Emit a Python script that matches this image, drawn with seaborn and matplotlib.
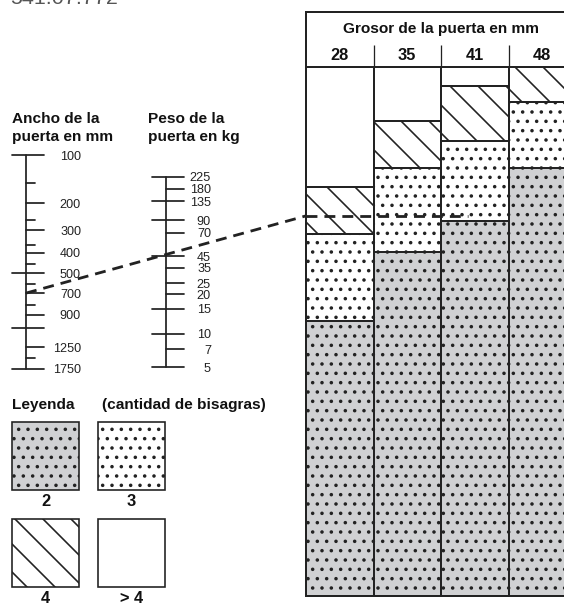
"""
Nomograma de bisagras: ancho y peso de la puerta -> cantidad de bisagras
segun el grosor de la puerta.
"""
import matplotlib
matplotlib.use("Agg")

import pandas as pd
import matplotlib.pyplot as plt
from matplotlib.patches import Rectangle
from matplotlib.transforms import blended_transform_factory
import seaborn as sns


# ─────────────────────────────────────────────
# Data (levels on a 0-100 chart scale, 0 = bottom of the table)
# ─────────────────────────────────────────────
THICKNESS_MM = ["28", "35", "41", "48"]

TOP_2_HINGES = [51.9, 64.9, 70.9, 80.8]
TOP_3_HINGES = [68.4, 80.8, 86.0, 93.4]
TOP_4_HINGES = [77.3, 89.8, 96.4, 100.0]
TOP_MORE     = [100.0, 100.0, 100.0, 100.0]

WIDTH_MM      = [100, 150, 200, 250, 300, 350, 400, 450, 500,
                 600, 700, 800, 900, 1000, 1250, 1500, 1750]
WIDTH_POS     = [83.3, 78.0, 74.2, 71.0, 69.1, 66.3, 64.8, 62.7, 61.0,
                 58.9, 57.2, 55.0, 53.1, 50.6, 47.0, 44.9, 42.9]
WIDTH_LABELED = [100, 200, 300, 400, 500, 700, 900, 1250, 1750]
WIDTH_MAJOR   = [100, 500, 1000, 1750]

WEIGHT_KG    = [225, 180, 135, 90, 70, 45, 35, 25, 20, 15, 10, 7, 5]
WEIGHT_POS   = [79.2, 76.9, 74.6, 71.0, 68.6, 64.2, 62.0, 59.1, 57.0,
                54.2, 49.5, 46.6, 43.2]
WEIGHT_MAJOR = [225, 135, 90, 45, 15, 10, 5]

EXAMPLE_WIDTH_MM = 700
EXAMPLE_LEVEL    = 71.8

LEGEND_LABELS = ["2", "3", "4", "> 4"]


# ─────────────────────────────────────────────
# Styles / layout (pixels of the 564x603 canvas)
# ─────────────────────────────────────────────
DPI = 168
W, H = 564, 603
EDGE = "#222222"
GRAY = "#d0d1d3"

ZONE_STYLE = {
    "2":   dict(color=GRAY,    hatch="..."),
    "3":   dict(color="white", hatch="..."),
    "4":   dict(color="white", hatch="\\\\"),
    "> 4": dict(color="white", hatch=None),
}

TABLE_LEFT, TABLE_RIGHT = 306, 576
TABLE_TOP, TABLE_BOTTOM = 66.7, 595.7
HEADER_TOP = 12
SCALE_STEP = 140          # px between width scale, weight scale and table

sns.set_style("white")
plt.rcParams["font.family"] = ["Liberation Sans", "DejaVu Sans"]
plt.rcParams["hatch.linewidth"] = 0.7


def fx(x):
    return x / W


def fy(y):
    return 1 - y / H


fig = plt.figure(figsize=(W / DPI, H / DPI), dpi=DPI)
fig.patch.set_facecolor("white")

# ─────────────────────────────────────────────
# Table (stacked zones drawn from tallest to shortest)
# ─────────────────────────────────────────────
tab_h = TABLE_BOTTOM - TABLE_TOP
ax = fig.add_axes([fx(TABLE_LEFT), fy(TABLE_BOTTOM),
                   (TABLE_RIGHT - TABLE_LEFT) / W, tab_h / H])

df = pd.DataFrame({
    "grosor": THICKNESS_MM,
    "> 4": TOP_MORE,
    "4": TOP_4_HINGES,
    "3": TOP_3_HINGES,
    "2": TOP_2_HINGES,
})

for zone in ["> 4", "4", "3", "2"]:
    sns.barplot(data=df, x="grosor", y=zone, width=1.0, errorbar=None,
                saturation=1, edgecolor=EDGE, linewidth=0.85, ax=ax,
                **ZONE_STYLE[zone])

ax.set_xlim(-0.5, len(THICKNESS_MM) - 0.5)
ax.set_ylim(0, 100)
ax.set(xlabel="", ylabel="")
ax.set_yticks([])
ax.xaxis.tick_top()
ax.set_xticks(range(len(THICKNESS_MM)))
ax.set_xticklabels(THICKNESS_MM, fontweight="bold", fontsize=7, color="#111")
ax.tick_params(axis="x", length=0, pad=1.5)
for sp in ax.spines.values():
    sp.set_visible(True)
    sp.set_color(EDGE)
    sp.set_linewidth(0.85)

# header box
hdr_top = 1 + (TABLE_TOP - HEADER_TOP) / tab_h
ax.plot([0, 0], [1, hdr_top], transform=ax.transAxes, clip_on=False,
        color=EDGE, lw=0.85, solid_capstyle="projecting")
ax.plot([0, 1], [hdr_top, hdr_top], transform=ax.transAxes, clip_on=False,
        color=EDGE, lw=0.85, solid_capstyle="projecting")
sep = blended_transform_factory(ax.transData, ax.transAxes)
ax.vlines([0.5, 1.5, 2.5], 1, 1 + (TABLE_TOP - 45) / tab_h, transform=sep,
          clip_on=False, color=EDGE, lw=0.55)
ax.text(0.5, 1 + (TABLE_TOP - 33) / tab_h, "Grosor de la puerta en mm",
        transform=ax.transAxes, ha="center", va="baseline",
        fontsize=6.6, fontweight="bold", color="#111")

# example reading continued across the table
dash = (0, (3.9, 2.5))
ax.plot([-0.5, 1.9], [EXAMPLE_LEVEL, EXAMPLE_LEVEL], ls=dash, lw=1.2,
        color=EDGE, clip_on=False, zorder=5)

# ─────────────────────────────────────────────
# Nomogram scales (same vertical scale as the table)
# ─────────────────────────────────────────────
nomo = fig.add_axes([0, fy(TABLE_BOTTOM), TABLE_LEFT / W, tab_h / H])
nomo.set_xlim(-26 / SCALE_STEP, 2)
nomo.set_ylim(0, 100)
nomo.axis("off")
nomo.patch.set_visible(False)

LONG = (-14 / SCALE_STEP, 18 / SCALE_STEP)
MID = (0, 18 / SCALE_STEP)
SHORT = (0, 9 / SCALE_STEP)


def draw_scale(x0, values, positions, major, labeled, label_x):
    nomo.plot([x0, x0], [min(positions), max(positions)], color=EDGE,
              lw=0.75, clip_on=False)
    for v, p in zip(values, positions):
        if v in major:
            a, b = LONG
        elif v in labeled:
            a, b = MID
        else:
            a, b = SHORT
        nomo.plot([x0 + a, x0 + b], [p, p], color=EDGE, lw=0.75,
                  clip_on=False)
        if v in labeled:
            nomo.text(label_x, p, str(v), ha="right", va="center_baseline",
                      fontsize=5.4, color="#222")


draw_scale(0, WIDTH_MM, WIDTH_POS, WIDTH_MAJOR, WIDTH_LABELED,
           55 / SCALE_STEP)
draw_scale(1, WEIGHT_KG, WEIGHT_POS, WEIGHT_MAJOR, WEIGHT_KG,
           1 + 45 / SCALE_STEP)

start = WIDTH_POS[WIDTH_MM.index(EXAMPLE_WIDTH_MM)]
nomo.plot([0, 2], [start, EXAMPLE_LEVEL], ls=dash, lw=1.2, color=EDGE,
          clip_on=False, zorder=5)

# ─────────────────────────────────────────────
# Texts and legend
# ─────────────────────────────────────────────
fig.text(fx(10), fy(4.5), "541.07.772", fontsize=9.2, color="#555",
         va="baseline")

bold = dict(fontsize=6.6, fontweight="bold", va="baseline", color="#111")
fig.text(fx(12), fy(123), "Ancho de la", **bold)
fig.text(fx(12), fy(141), "puerta en mm", **bold)
fig.text(fx(148), fy(123), "Peso de la", **bold)
fig.text(fx(148), fy(141), "puerta en kg", **bold)
fig.text(fx(12), fy(409), "Leyenda", **bold)
fig.text(fx(102), fy(409), "(cantidad de bisagras)", **bold)

swatch_xy = [(12, 422), (98, 422), (12, 519), (98, 519)]
for label, (x0, y0) in zip(LEGEND_LABELS, swatch_xy):
    style = ZONE_STYLE[label]
    rect = Rectangle((fx(x0), fy(y0 + 68)), 67 / W, 68 / H,
                     transform=fig.transFigure, facecolor=style["color"],
                     hatch=style["hatch"], edgecolor=EDGE, lw=0.7)
    fig.add_artist(rect)
    fig.text(fx(x0 + 33.5), fy(y0 + 84), label, ha="center", va="baseline",
             fontsize=7, fontweight="bold", color="#111")

fig.savefig("out.png", dpi=DPI)
